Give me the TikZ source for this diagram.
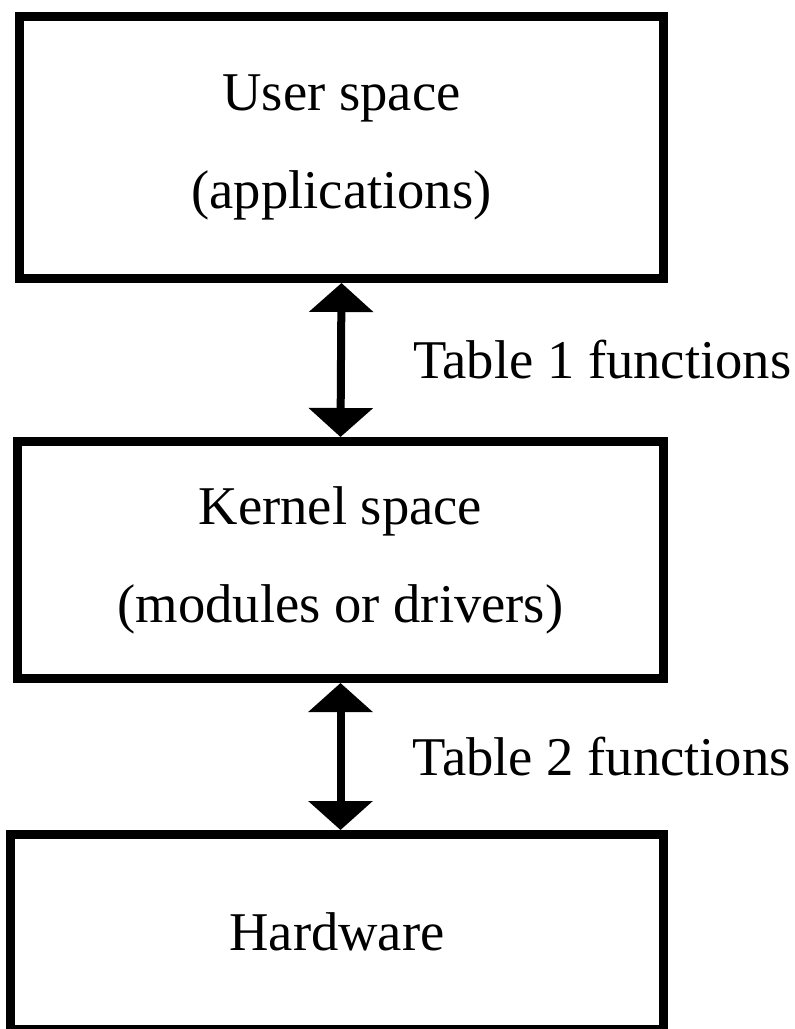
\documentclass[tikz,border=0pt]{standalone}
\usepackage{fontspec}
\setmainfont{Liberation Serif}
\usetikzlibrary{arrows.meta,positioning}

\begin{document}
\begin{tikzpicture}[x=0.5pt,y=-0.5pt,
	layer/.style={shape=rectangle, draw, line width=4.5pt, align=center, font=\fontsize{27.3}{49}\selectfont},
	link/.style={<->, line width=4pt, >={Triangle[width=31.5pt,length=14.5pt]}},
	lbl/.style={right=34pt, inner sep=0pt, font=\fontsize{27.3}{33}\selectfont}]
	\useasboundingbox (0,0) rectangle (795,1029);
	
	\node[layer, minimum width=322pt, minimum height=131pt] (user) at (341.5,147.5) {User space\\(applications)};
	\node[layer, minimum width=323pt, minimum height=118.5pt] (kernel) at (340.5,560) {Kernel space\\(modules or drivers)};
	\node[layer, minimum width=326.5pt, minimum height=97.5pt] (hw) at (337,932) {Hardware};
	
	\path [link] (user.south) edge node[lbl] {Table 1 functions} (kernel.north);
	\path [link] (kernel.south) edge node[lbl] {Table 2 functions} (kernel.south |- hw.north);
\end{tikzpicture}
\end{document}
